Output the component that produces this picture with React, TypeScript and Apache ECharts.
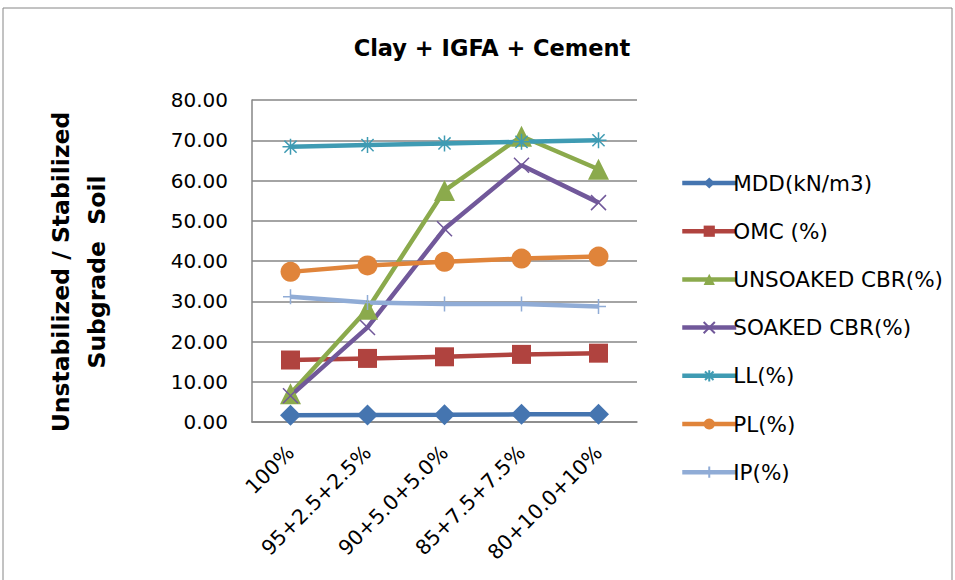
import React, { useEffect, useRef } from "react";
import * as echarts from "echarts";

const categories = ["100%", "95+2.5+2.5%", "90+5.0+5.0%", "85+7.5+7.5%", "80+10.0+10%"];
const mdd = [1.7, 1.75, 1.8, 1.9, 1.9];
const omc = [15.4, 15.8, 16.2, 16.8, 17.1];
const unsoaked = [7.0, 28.0, 57.5, 71.0, 62.8];
const soaked = [6.5, 23.5, 48.0, 63.8, 54.5];
const ll = [68.4, 68.8, 69.2, 69.6, 70.0];
const pl = [37.3, 38.9, 39.8, 40.6, 41.1];
const ip = [31.1, 29.7, 29.3, 29.3, 28.7];

const names = ["MDD(kN/m3)", "OMC (%)", "UNSOAKED CBR(%)", "SOAKED CBR(%)", "LL(%)", "PL(%)", "IP(%)"];

const FONT = "'DejaVu Sans', sans-serif";

export default function App() {
  const ref = useRef<HTMLDivElement>(null);
  useEffect(() => {
    if (!ref.current) return;
    const chart = echarts.init(ref.current, undefined, { renderer: "svg" });
    const xPath = "path://M0,0 L10,10 M10,0 L0,10";
    const starPath = "path://M5,0 L5,10 M0,5 L10,5 M1.2,1.2 L8.8,8.8 M8.8,1.2 L1.2,8.8";
    const plusPath = "path://M5,0 L5,10 M0,5 L10,5";
    const mk = (name: string, data: number[], color: string, symbol: string, size: number) => ({
      name,
      type: "line",
      data,
      symbol,
      symbolSize: size,
      lineStyle: { color, width: 4.5 },
      itemStyle: { color },
    });
    chart.setOption({
      animation: false,
      textStyle: { fontFamily: FONT },
      title: {
        text: "Clay + IGFA + Cement",
        left: 487,
        top: 31,
        textAlign: "center",
        textStyle: { fontFamily: FONT, fontWeight: "bold", fontSize: 22.5, color: "#000" },
      },
      grid: { left: 252, right: 318, top: 100, bottom: 158 },
      legend: {
        orient: "vertical",
        left: 675,
        top: 167,
        itemWidth: 54,
        itemHeight: 14,
        itemGap: 26.2,
        lineStyle: { width: 4.5 },
        textStyle: { fontFamily: FONT, fontSize: 21.5, color: "#000", padding: [0, 0, 0, -8] },
        data: names,
      },
      xAxis: {
        type: "category",
        data: categories,
        boundaryGap: true,
        axisLine: { lineStyle: { color: "#868686", width: 1.5 } },
        axisTick: { show: false },
        axisLabel: { rotate: 45, fontSize: 20.5, color: "#000", margin: 27, fontFamily: FONT },
      },
      yAxis: {
        type: "value",
        min: 0,
        max: 80,
        interval: 10,
        axisLine: { show: true, lineStyle: { color: "#868686", width: 1.5 } },
        axisTick: { show: false },
        splitLine: { lineStyle: { color: "#868686", width: 1.5 } },
        axisLabel: { fontSize: 20, color: "#000", margin: 24, fontFamily: FONT, formatter: (v: number) => v.toFixed(2) },
      },
      graphic: [
        {
          type: "rect",
          shape: { x: 3, y: 8, width: 949, height: 600 },
          style: { fill: "none", stroke: "#868686", lineWidth: 1 },
          silent: true,
        },
        {
          type: "text",
          x: 79,
          y: 272,
          rotation: Math.PI / 2,
          style: {
            text: "Unstabilized / Stabilized\nSubgrade  Soil",
            fontFamily: FONT,
            fontWeight: "bold",
            fontSize: 23.5,
            lineHeight: 36,
            fill: "#000",
            align: "center",
            verticalAlign: "middle",
          },
        },
      ],
      series: [
        mk(names[0], mdd, "#4575B0", "diamond", 21),
        mk(names[1], omc, "#B0433F", "rect", 19),
        mk(names[2], unsoaked, "#8BAA4C", "triangle", 21),
        {
          ...mk(names[3], soaked, "#71589A", xPath, 15),
          itemStyle: { color: "#71589A", borderColor: "#71589A", borderWidth: 1.5 },
        },
        {
          ...mk(names[4], ll, "#3F9BB3", starPath, 16),
          itemStyle: { color: "#3F9BB3", borderColor: "#3F9BB3", borderWidth: 1.5 },
        },
        mk(names[5], pl, "#E0843A", "circle", 20),
        {
          ...mk(names[6], ip, "#90ACD6", plusPath, 15),
          itemStyle: { color: "#90ACD6", borderColor: "#90ACD6", borderWidth: 1.5 },
        },
      ],
    });
    return () => chart.dispose();
  }, []);
  return <div ref={ref} style={{ position: "fixed", left: 0, top: 0, width: 955, height: 580, background: "#fff" }} />;
}
